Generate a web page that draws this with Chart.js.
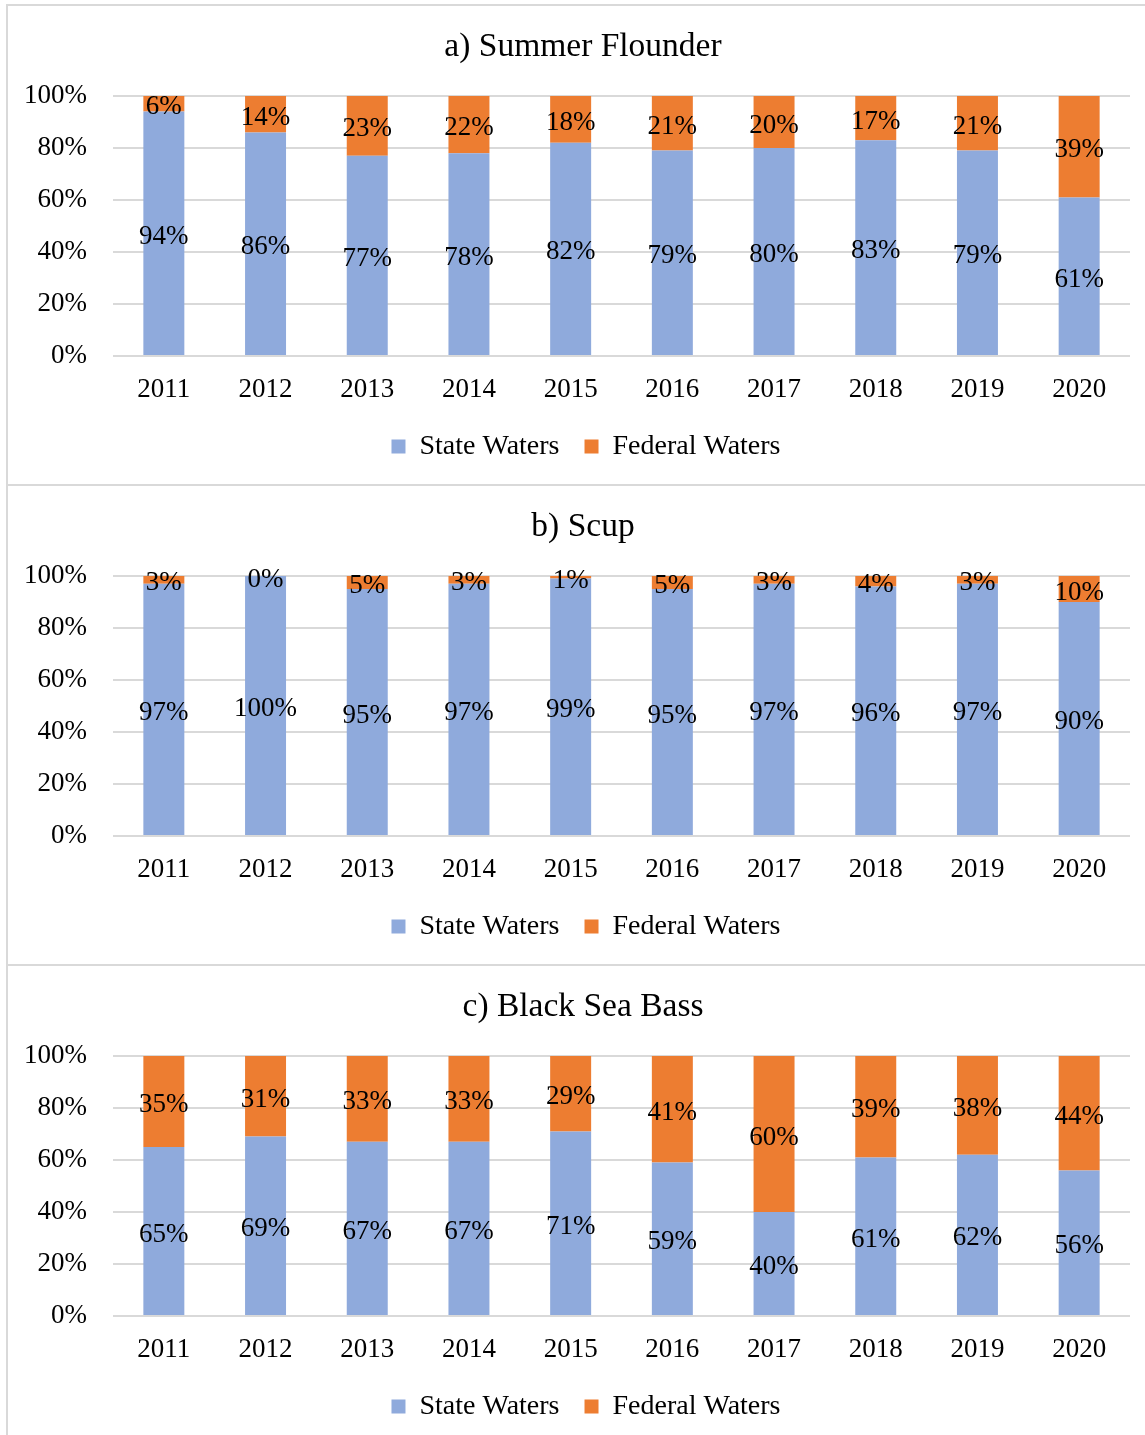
<!DOCTYPE html>
<html>
<head>
<meta charset="utf-8">
<script src="https://cdn.jsdelivr.net/npm/chart.js@4"></script>
<style>
  html, body { margin: 0; padding: 0; background: #fff; width: 1145px; height: 1435px; overflow: hidden; }
  .panel { position: absolute; left: 6px; width: 1137px; height: 478px; border-left: 2px solid #d9d9d9; border-top: 2px solid #d9d9d9; }
  canvas { display: block; }
</style>
</head>
<body>
<div class="panel" style="top:4px"><canvas id="c1" width="1137" height="478"></canvas></div>
<div class="panel" style="top:484px"><canvas id="c2" width="1137" height="478"></canvas></div>
<div class="panel" style="top:964px"><canvas id="c3" width="1137" height="478"></canvas></div>
<script>
const years = ['2011','2012','2013','2014','2015','2016','2017','2018','2019','2020'];
const seriesNames = ['State Waters', 'Federal Waters'];
const yTicks = [0, 20, 40, 60, 80, 100];

const titleFlounder = 'a) Summer Flounder';
const flounderState = [94, 86, 77, 78, 82, 79, 80, 83, 79, 61];
const flounderFederal = [6, 14, 23, 22, 18, 21, 20, 17, 21, 39];

const titleScup = 'b) Scup';
const scupState = [97, 100, 95, 97, 99, 95, 97, 96, 97, 90];
const scupFederal = [3, 0, 5, 3, 1, 5, 3, 4, 3, 10];

const titleBass = 'c) Black Sea Bass';
const bassState = [65, 69, 67, 67, 71, 59, 40, 61, 62, 56];
const bassFederal = [35, 31, 33, 33, 29, 41, 60, 39, 38, 44];

const FONT = "'Liberation Serif', 'Times New Roman', serif";
const BLUE = '#8FAADC';
const ORANGE = '#ED7D31';
const GRID = '#d9d9d9';

const segLabels = {
  id: 'segLabels',
  afterDatasetsDraw(chart) {
    const ctx = chart.ctx;
    ctx.save();
    ctx.font = '27px ' + FONT;
    ctx.fillStyle = '#000';
    ctx.textAlign = 'center';
    ctx.textBaseline = 'middle';
    chart.data.datasets.forEach((ds, di) => {
      const meta = chart.getDatasetMeta(di);
      meta.data.forEach((el, i) => {
        const v = ds.data[i];
        const y = (el.y + el.base) / 2 + 3.5;
        ctx.fillText(v + '%', el.x, y);
      });
    });
    ctx.restore();
  }
};

// the reference panel is wider than the visible crop, so title and legend sit right of canvas center
const shiftBoxes = {
  id: 'shiftBoxes',
  afterLayout(chart) {
    const t = chart.titleBlock;
    if (t) { t.left += 14; t.right += 14; }
    const l = chart.legend;
    if (l) { l.left += 17; l.right += 17; }
  }
};

function makeChart(id, title, state, federal) {
  new Chart(document.getElementById(id), {
    type: 'bar',
    data: {
      labels: years,
      datasets: [
        { label: seriesNames[0], data: state, backgroundColor: BLUE, borderWidth: 0 },
        { label: seriesNames[1], data: federal, backgroundColor: ORANGE, borderWidth: 0 }
      ]
    },
    options: {
      responsive: false,
      animation: false,
      devicePixelRatio: 1,
      datasets: { bar: { barPercentage: 0.403, categoryPercentage: 1 } },
      layout: { padding: { left: 0, right: 15, top: 0, bottom: 13.6 } },
      plugins: {
        title: {
          display: true,
          text: title,
          color: '#000',
          font: { family: FONT, size: 33.5, weight: 'normal', lineHeight: 1.2 },
          padding: { top: 20.9, bottom: 28.9 }
        },
        legend: {
          display: true,
          position: 'bottom',
          labels: {
            color: '#000',
            font: { family: FONT, size: 28 },
            boxWidth: 14,
            boxHeight: 14,
            padding: 25
          }
        },
        tooltip: { enabled: false }
      },
      scales: {
        x: {
          stacked: true,
          grid: { display: false, drawTicks: false },
          border: { display: false },
          ticks: { color: '#000', font: { family: FONT, size: 27 }, padding: 18, maxRotation: 0 },
          afterFit(scale) { scale.height = 51.4; }
        },
        y: {
          stacked: true,
          min: 0,
          max: 100,
          afterBuildTicks(scale) { scale.ticks = yTicks.map(v => ({ value: v })); },
          grid: { color: GRID, lineWidth: 2, drawTicks: false },
          border: { display: false },
          ticks: { color: '#000', font: { family: FONT, size: 27 }, padding: 26, callback: v => v + '%' },
          afterFit(scale) { scale.width = 105; }
        }
      }
    },
    plugins: [segLabels, shiftBoxes]
  });
}

makeChart('c1', titleFlounder, flounderState, flounderFederal);
makeChart('c2', titleScup, scupState, scupFederal);
makeChart('c3', titleBass, bassState, bassFederal);
</script>
</body>
</html>
